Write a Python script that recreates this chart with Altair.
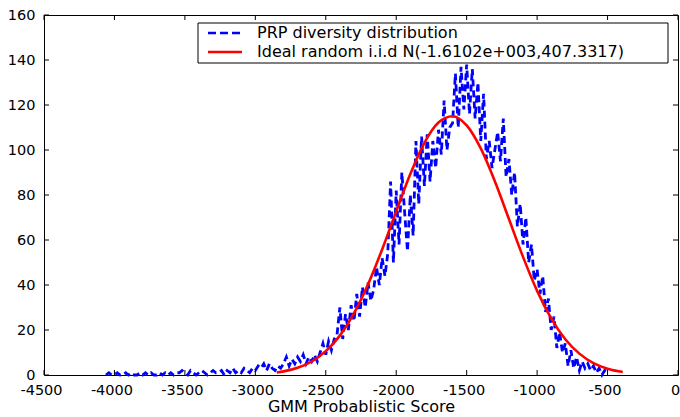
import altair as alt
import pandas as pd

# ---- data ----
x_ticks = [-4500, -4000, -3500, -3000, -2500, -2000, -1500, -1000, -500, 0]
y_ticks = [0, 20, 40, 60, 80, 100, 120, 140, 160]
series_names = ["PRP diversity distribution",
                "Ideal random i.i.d N(-1.6102e+003,407.3317)"]

# blue: observed histogram (bin centres every 20 units)
blue_x = list(range(-4060, -499, 20))
blue_y = [
    0, 1, 0, 0, 1, 0, 0, 1, 0, 1, 0, 0, 1, 0, 1, 0, 1, 0, 0, 1, 0, 1, 0, 1, 0, 1, 1, 2, 1,
    0, 2, 1, 0, 1, 2, 1, 0, 1, 2, 1, 1, 2, 0, 2, 1, 3, 1, 2, 1, 3, 2, 1, 3, 2,
    4, 3, 5, 2, 5, 3, 2, 4, 3,
    5, 8, 4, 7, 5, 8, 6, 9, 5, 8, 6, 9, 6,
    10, 14, 9, 15, 11, 16,
    18, 30, 16, 27, 20, 31, 24,
    36, 26, 39, 30, 41, 33, 38,
    48, 40, 52, 44, 54,
    86, 50, 82, 58, 90,
    72, 55, 80, 62,
    104, 76, 106, 84,
    107, 86, 104, 92, 109,
    98, 122, 100, 110,
    112, 134, 110, 137, 118, 138, 116, 136, 114, 130,
    104, 125, 96, 104, 92, 100, 108, 95, 114, 88, 96, 80, 90, 66, 76, 58, 70, 50,
    58, 42, 47, 36, 44, 28, 34, 20, 26, 12, 19, 10, 14, 4, 11, 3, 8, 2, 6, 3, 5,
    2, 4, 1, 3, 0, 2, 0,
]

# red: fitted normal curve
red_x = [-2848, -2800, -2700, -2600, -2500, -2400, -2300, -2200, -2100, -2000,
         -1900, -1800, -1700, -1600, -1500, -1400, -1300, -1200, -1100, -1000,
         -900, -800, -700, -600, -500, -400, -392]
red_y = [1.1, 1.6, 3.2, 6.0, 10.6, 17.5, 27.4, 40.3, 55.8, 72.7,
         89.3, 103.2, 112.2, 115.0, 110.9, 100.7, 86.1, 69.3, 52.5, 37.4,
         25.2, 15.9, 9.5, 5.3, 2.8, 1.4, 1.3]

blue_df = pd.DataFrame({"x": blue_x, "y": blue_y})
red_df = pd.DataFrame({"x": red_x, "y": red_y})
xt_df = pd.DataFrame({"x": x_ticks})
yt_df = pd.DataFrame({"y": y_ticks})
one = pd.DataFrame({"a": [0]})

W, H = 634, 360
FONT = "DejaVu Sans"

X = alt.X("x:Q",
          scale=alt.Scale(domain=[-4500, 0], nice=False, zero=False),
          axis=alt.Axis(values=x_ticks, labelExpr="'' + datum.value",
                        labelFlush=False, labelOverlap=False,
                        labelPadding=8, labelOffset=-3,
                        title="GMM Probablistic Score", titlePadding=2,
                        titleFontSize=16))
Y = alt.Y("y:Q",
          scale=alt.Scale(domain=[0, 160], nice=False),
          axis=alt.Axis(values=y_ticks, labelExpr="'' + datum.value",
                        labelOverlap=False, labelPadding=9, title=None))

blue = alt.Chart(blue_df).mark_line(color="#0000ff", strokeWidth=2.8,
                                    strokeDash=[7, 4]).encode(x=X, y=Y)
red = alt.Chart(red_df).mark_line(color="#ff0000", strokeWidth=2.6,
                                  interpolate="monotone").encode(x=X, y=Y)

tick_b = alt.Chart(xt_df).mark_rule(color="black").encode(
    x=X, y=alt.value(H), y2=alt.value(H - 5))
tick_t = alt.Chart(xt_df).mark_rule(color="black").encode(
    x=X, y=alt.value(0), y2=alt.value(5))
tick_l = alt.Chart(yt_df).mark_rule(color="black").encode(
    y=Y, x=alt.value(0), x2=alt.value(5))
tick_r = alt.Chart(yt_df).mark_rule(color="black").encode(
    y=Y, x=alt.value(W), x2=alt.value(W - 5))

leg_box = alt.Chart(one).mark_rect(fill="white", stroke="black",
                                   strokeWidth=1).encode(
    x=alt.value(154), x2=alt.value(624), y=alt.value(8), y2=alt.value(48))
leg_blue = alt.Chart(one).mark_rule(color="#0000ff", strokeWidth=2.6,
                                    strokeDash=[8, 4]).encode(
    x=alt.value(164), x2=alt.value(198), y=alt.value(18))
leg_red = alt.Chart(one).mark_rule(color="#ff0000", strokeWidth=2.6).encode(
    x=alt.value(164), x2=alt.value(198), y=alt.value(37))
leg_t1 = alt.Chart(one).mark_text(align="left", baseline="middle", font=FONT,
                                  fontSize=16, color="black").encode(
    x=alt.value(213), y=alt.value(18), text=alt.value(series_names[0]))
leg_t2 = alt.Chart(one).mark_text(align="left", baseline="middle", font=FONT,
                                  fontSize=16, color="black").encode(
    x=alt.value(213), y=alt.value(37), text=alt.value(series_names[1]))

chart = alt.layer(
    blue, red, tick_b, tick_t, tick_l, tick_r,
    leg_box, leg_blue, leg_red, leg_t1, leg_t2
).properties(
    width=W, height=H,
    padding={"left": 44, "top": 15, "right": 2, "bottom": 42},
    autosize=alt.AutoSizeParams(type="none"),
    background="white",
).configure_view(
    stroke="black", strokeWidth=1
).configure_axis(
    grid=False, domain=False, ticks=False,
    labelFont=FONT, labelFontSize=14.5, labelColor="black",
    titleFont=FONT, titleFontWeight="normal", titleColor="black",
)

chart.save("out.html", embed_options={"renderer": "svg", "actions": False})
